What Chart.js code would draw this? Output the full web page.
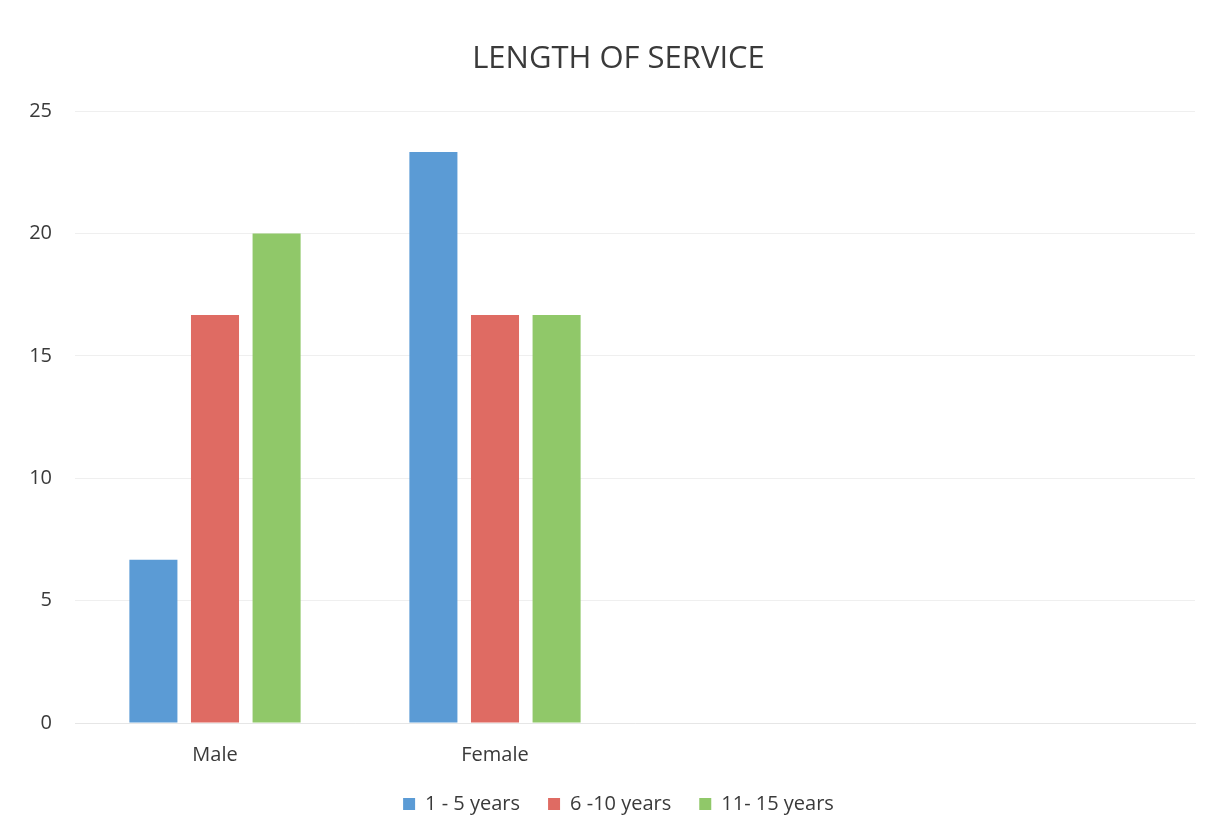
<!DOCTYPE html>
<html>
<head>
<meta charset="utf-8">
<script src="https://cdn.jsdelivr.net/npm/chart.js@4/dist/chart.umd.min.js"></script>
<style>
  html, body { margin: 0; padding: 0; background: #fff; }
  #wrap { width: 1221px; height: 836px; }
</style>
</head>
<body>
<div id="wrap"><canvas id="serviceChart" width="1221" height="836"></canvas></div>
<script>
// categories (two trailing empty slots keep the bars in the left half)
const groups = ['Male', 'Female', '', ''];
const yearsShort = [6.67, 23.33, null, null];   // 1 - 5 years
const yearsMid = [16.67, 16.67, null, null];    // 6 -10 years
const yearsLong = [20, 16.67, null, null];      // 11- 15 years
const yTicks = [0, 5, 10, 15, 20, 25];

const fontFamily = '"Open Sans", "Liberation Sans", sans-serif';

// the y axis is squeezed into the left padding; widen its box again so its labels are not clipped
const unclipY = {
    id: 'unclipY',
    afterLayout(c) { c.scales.y.left = 0; }
};

let chart = new Chart(document.getElementById('serviceChart'), {
    type: 'bar',
    data: {
        labels: groups,
        datasets: [
            { label: '1 - 5 years', data: yearsShort, backgroundColor: '#5b9bd5' },
            { label: '6 -10 years', data: yearsMid, backgroundColor: '#df6b63' },
            { label: '11- 15 years', data: yearsLong, backgroundColor: '#90c869' }
        ]
    },
    plugins: [unclipY],
    options: {
        responsive: false,
        animation: false,
        layout: { padding: { left: 42, right: 26, top: 41, bottom: 12 } },
        datasets: { bar: { categoryPercentage: 0.66, barPercentage: 0.78 } },
        plugins: {
            title: {
                display: true,
                text: 'LENGTH OF SERVICE',
                color: '#3a3a3a',
                font: { family: fontFamily, size: 31, weight: 'normal' },
                padding: { top: 0, bottom: 33 }
            },
            legend: {
                position: 'bottom',
                labels: {
                    color: '#3a3a3a',
                    font: { family: fontFamily, size: 20 },
                    boxWidth: 12, boxHeight: 12,
                    padding: 28
                }
            },
            tooltip: { enabled: false }
        },
        scales: {
            x: {
                grid: { display: false },
                border: { display: true, color: '#e6e6e6' },
                ticks: { color: '#3a3a3a', font: { family: fontFamily, size: 20 }, padding: 12 },
                afterFit: axis => { axis.height = 43; }
            },
            y: {
                min: 0, max: 25,
                afterBuildTicks: axis => { axis.ticks = yTicks.map(v => ({ value: v })); },
                grid: { color: '#efefef', drawTicks: false },
                border: { display: false },
                ticks: { color: '#3a3a3a', font: { family: fontFamily, size: 20 }, padding: 23 },
                afterFit: axis => { axis.width = 33; }
            }
        }
    }
});
</script>
</body>
</html>
